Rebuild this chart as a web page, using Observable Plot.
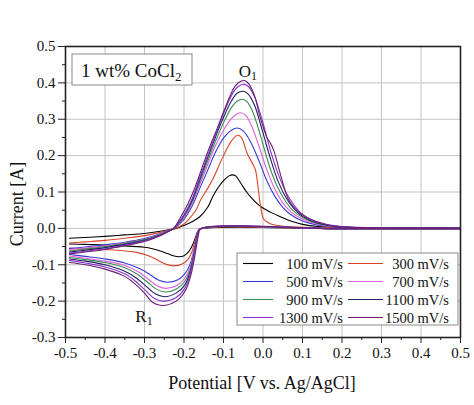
<!DOCTYPE html>
<html>
<head>
<meta charset="utf-8">
<script src="https://cdn.jsdelivr.net/npm/d3@7"></script>
<script src="https://cdn.jsdelivr.net/npm/@observablehq/plot@0.6"></script>
<style>
  html, body { margin: 0; padding: 0; background: #fff; }
  svg { display: block; }
</style>
</head>
<body>
<div id="chart"></div>
<script>
// ---- Data ----
const scanRates = ["100 mV/s", "300 mV/s", "500 mV/s", "700 mV/s", "900 mV/s", "1100 mV/s", "1300 mV/s", "1500 mV/s"];
const seriesColors = ["#000000", "#d9442a", "#3b3bd0", "#e060e0", "#3c8c50", "#202060", "#8a38d0", "#6a1f70"];

const xTicks = [-0.5, -0.4, -0.3, -0.2, -0.1, 0.0, 0.1, 0.2, 0.3, 0.4, 0.5];
const xMinorTicks = [-0.45, -0.35, -0.25, -0.15, -0.05, 0.05, 0.15, 0.25, 0.35, 0.45];
const yTicks = [-0.3, -0.2, -0.1, 0.0, 0.1, 0.2, 0.3, 0.4, 0.5];
const yMinorTicks = [-0.25, -0.15, -0.05, 0.05, 0.15, 0.25, 0.35, 0.45];

// [potential V, current A], in scan order (anodic sweep then cathodic sweep)
const cv100 = [[-0.49,-0.027],[-0.45,-0.025],[-0.4,-0.022],[-0.35,-0.018],[-0.3,-0.014],[-0.26,-0.008],[-0.235,-0.003],[-0.22,0.0],[-0.2,0.008],[-0.18,0.018],[-0.16,0.032],[-0.14,0.058],[-0.125,0.092],[-0.1,0.131],[-0.085,0.145],[-0.078,0.147],[-0.07,0.145],[-0.055,0.122],[-0.04,0.098],[-0.03,0.085],[-0.006,0.06],[0.02,0.044],[0.044,0.032],[0.07,0.02],[0.1,0.011],[0.14,0.005],[0.2,0.002],[0.3,0.001],[0.5,0.001],
  [0.5,-0.001],[0.2,-0.001],[-0.16,-0.002],[-0.165,-0.008],[-0.17,-0.022],[-0.178,-0.045],[-0.188,-0.064],[-0.2,-0.075],[-0.212,-0.078],[-0.225,-0.076],[-0.24,-0.07],[-0.26,-0.062],[-0.28,-0.056],[-0.3,-0.052],[-0.35,-0.048],[-0.4,-0.046],[-0.45,-0.044],[-0.49,-0.043]];
const cv300 = [[-0.49,-0.04],[-0.45,-0.037],[-0.4,-0.033],[-0.35,-0.027],[-0.3,-0.02],[-0.26,-0.011],[-0.235,-0.004],[-0.222,0.0],[-0.2,0.012],[-0.19,0.023],[-0.17,0.05],[-0.158,0.078],[-0.14,0.11],[-0.125,0.14],[-0.1,0.2],[-0.08,0.24],[-0.065,0.256],[-0.055,0.25],[-0.04,0.206],[-0.025,0.175],[-0.019,0.16],[-0.011,0.1],[-0.006,0.06],[0.002,0.025],[0.02,0.012],[0.05,0.006],[0.1,0.003],[0.2,0.001],[0.5,0.001],
  [0.5,-0.001],[0.2,-0.001],[-0.16,-0.002],[-0.165,-0.01],[-0.172,-0.035],[-0.18,-0.065],[-0.19,-0.085],[-0.205,-0.098],[-0.226,-0.103],[-0.245,-0.099],[-0.265,-0.088],[-0.29,-0.075],[-0.32,-0.066],[-0.36,-0.061],[-0.4,-0.058],[-0.45,-0.056],[-0.49,-0.055]];
const cv500 = [[-0.49,-0.055],[-0.45,-0.051],[-0.4,-0.045],[-0.35,-0.038],[-0.3,-0.028],[-0.26,-0.015],[-0.24,-0.006],[-0.225,0.0],[-0.2,0.025],[-0.18,0.06],[-0.16,0.11],[-0.14,0.16],[-0.12,0.21],[-0.1,0.248],[-0.08,0.27],[-0.065,0.276],[-0.05,0.268],[-0.03,0.235],[-0.01,0.185],[0.01,0.13],[0.03,0.088],[0.05,0.058],[0.07,0.038],[0.1,0.02],[0.14,0.009],[0.2,0.003],[0.3,0.001],[0.5,0.001],
  [0.5,-0.001],[0.2,-0.001],[-0.16,-0.002],[-0.165,-0.012],[-0.17,-0.035],[-0.177,-0.07],[-0.185,-0.1],[-0.198,-0.125],[-0.215,-0.141],[-0.243,-0.148],[-0.265,-0.142],[-0.285,-0.128],[-0.31,-0.112],[-0.35,-0.095],[-0.4,-0.084],[-0.45,-0.077],[-0.49,-0.072]];
const cv700 = [[-0.49,-0.058],[-0.45,-0.054],[-0.4,-0.048],[-0.35,-0.04],[-0.3,-0.03],[-0.26,-0.016],[-0.24,-0.007],[-0.226,0.0],[-0.2,0.03],[-0.18,0.068],[-0.16,0.12],[-0.14,0.175],[-0.12,0.228],[-0.1,0.27],[-0.08,0.302],[-0.065,0.315],[-0.057,0.318],[-0.045,0.312],[-0.03,0.285],[-0.01,0.225],[0.01,0.16],[0.03,0.108],[0.05,0.07],[0.07,0.046],[0.1,0.025],[0.14,0.011],[0.2,0.004],[0.3,0.001],[0.5,0.001],
  [0.5,-0.001],[0.2,-0.001],[-0.16,-0.002],[-0.165,-0.012],[-0.17,-0.037],[-0.177,-0.075],[-0.185,-0.108],[-0.198,-0.137],[-0.218,-0.157],[-0.247,-0.165],[-0.268,-0.158],[-0.29,-0.14],[-0.315,-0.12],[-0.35,-0.102],[-0.4,-0.09],[-0.45,-0.082],[-0.49,-0.076]];
const cv900 = [[-0.49,-0.062],[-0.45,-0.057],[-0.4,-0.05],[-0.35,-0.042],[-0.3,-0.031],[-0.26,-0.017],[-0.24,-0.007],[-0.226,0.0],[-0.2,0.033],[-0.18,0.072],[-0.16,0.128],[-0.14,0.185],[-0.12,0.24],[-0.1,0.29],[-0.08,0.332],[-0.065,0.35],[-0.052,0.355],[-0.04,0.348],[-0.025,0.318],[-0.005,0.25],[0.015,0.175],[0.035,0.118],[0.055,0.078],[0.075,0.05],[0.1,0.03],[0.14,0.013],[0.2,0.004],[0.3,0.001],[0.5,0.001],
  [0.5,-0.001],[0.2,-0.001],[-0.16,-0.002],[-0.165,-0.013],[-0.17,-0.04],[-0.177,-0.08],[-0.185,-0.115],[-0.198,-0.146],[-0.218,-0.166],[-0.248,-0.175],[-0.27,-0.167],[-0.292,-0.148],[-0.318,-0.126],[-0.35,-0.108],[-0.4,-0.094],[-0.45,-0.086],[-0.49,-0.08]];
const cv1100 = [[-0.49,-0.065],[-0.45,-0.06],[-0.4,-0.053],[-0.35,-0.044],[-0.3,-0.033],[-0.26,-0.018],[-0.24,-0.008],[-0.226,0.0],[-0.2,0.036],[-0.18,0.076],[-0.16,0.135],[-0.14,0.195],[-0.12,0.252],[-0.1,0.305],[-0.08,0.35],[-0.065,0.372],[-0.05,0.377],[-0.038,0.37],[-0.022,0.34],[-0.002,0.27],[0.018,0.195],[0.038,0.13],[0.058,0.085],[0.078,0.055],[0.1,0.033],[0.14,0.014],[0.2,0.004],[0.3,0.001],[0.5,0.001],
  [0.5,-0.001],[0.2,-0.001],[-0.16,-0.002],[-0.165,-0.014],[-0.17,-0.042],[-0.177,-0.085],[-0.185,-0.122],[-0.198,-0.156],[-0.22,-0.178],[-0.25,-0.188],[-0.273,-0.18],[-0.295,-0.16],[-0.32,-0.137],[-0.35,-0.118],[-0.4,-0.1],[-0.45,-0.09],[-0.49,-0.084]];
const cv1300 = [[-0.49,-0.068],[-0.45,-0.063],[-0.4,-0.056],[-0.35,-0.046],[-0.3,-0.034],[-0.26,-0.019],[-0.24,-0.008],[-0.226,0.0],[-0.2,0.038],[-0.18,0.08],[-0.16,0.14],[-0.14,0.2],[-0.12,0.258],[-0.1,0.315],[-0.08,0.365],[-0.065,0.388],[-0.048,0.396],[-0.035,0.388],[-0.02,0.358],[0.0,0.29],[0.02,0.21],[0.04,0.145],[0.06,0.095],[0.08,0.062],[0.1,0.038],[0.14,0.016],[0.2,0.005],[0.3,0.001],[0.5,0.001],
  [0.5,-0.001],[0.2,-0.001],[-0.16,-0.002],[-0.165,-0.015],[-0.17,-0.044],[-0.177,-0.088],[-0.185,-0.128],[-0.198,-0.165],[-0.22,-0.19],[-0.253,-0.2],[-0.276,-0.192],[-0.298,-0.17],[-0.322,-0.146],[-0.35,-0.125],[-0.4,-0.106],[-0.45,-0.095],[-0.49,-0.088]];
const cv1500 = [[-0.49,-0.07],[-0.45,-0.065],[-0.4,-0.058],[-0.35,-0.048],[-0.3,-0.036],[-0.26,-0.02],[-0.24,-0.009],[-0.226,0.0],[-0.209,0.03],[-0.19,0.068],[-0.175,0.105],[-0.158,0.155],[-0.14,0.21],[-0.116,0.275],[-0.1,0.32],[-0.085,0.36],[-0.07,0.392],[-0.055,0.405],[-0.045,0.406],[-0.035,0.396],[-0.02,0.36],[-0.011,0.32],[0.0,0.28],[0.01,0.25],[0.019,0.234],[0.027,0.215],[0.04,0.165],[0.053,0.115],[0.065,0.078],[0.08,0.056],[0.095,0.041],[0.115,0.028],[0.137,0.018],[0.18,0.006],[0.25,0.002],[0.5,0.001],
  [0.5,-0.001],[0.2,-0.001],[-0.158,-0.002],[-0.163,-0.016],[-0.168,-0.046],[-0.175,-0.09],[-0.183,-0.13],[-0.196,-0.17],[-0.22,-0.2],[-0.256,-0.212],[-0.28,-0.203],[-0.3,-0.178],[-0.325,-0.152],[-0.35,-0.132],[-0.4,-0.112],[-0.45,-0.1],[-0.49,-0.094]];

const curves = [cv100, cv300, cv500, cv700, cv900, cv1100, cv1300, cv1500];

// ---- Build table: split each loop into its anodic and cathodic sweep ----
const table = curves.flatMap((pts, i) => {
  const turn = pts.findIndex(p => p[0] >= 0.5);
  return pts.map(([v, c], k) => ({
    rate: scanRates[i],
    sweep: scanRates[i] + (k <= turn ? " anodic" : " cathodic"),
    potential: v,
    current: c
  }));
});

const FONT = "Liberation Serif, Times New Roman, serif";
const fmt = d => d.toFixed(1);

const chart = Plot.plot({
  width: 474,
  height: 405,
  marginLeft: 65,
  marginRight: 14,
  marginTop: 46,
  marginBottom: 68,
  style: {fontFamily: FONT, fontSize: "15px", background: "#fff", color: "#111"},
  x: {domain: [-0.5, 0.5]},
  y: {domain: [-0.3, 0.5]},
  color: {domain: scanRates, range: seriesColors},
  marks: [
    Plot.gridX(xTicks, {stroke: "#c4c4c4", strokeOpacity: 1, strokeWidth: 1}),
    Plot.gridY(yTicks, {stroke: "#c4c4c4", strokeOpacity: 1, strokeWidth: 1}),
    Plot.line(table, {x: "potential", y: "current", z: "sweep", stroke: "rate", strokeWidth: 1.1, curve: "catmull-rom"}),
    Plot.axisX(xTicks, {tickFormat: fmt, tickSize: 6, tickPadding: 4, label: null, fontSize: 15, fontFamily: FONT, stroke: "#222"}),
    Plot.axisX(xMinorTicks, {text: null, tickSize: 3, label: null, stroke: "#222"}),
    Plot.axisY(yTicks, {tickFormat: fmt, tickSize: 7, tickPadding: 3, label: null, fontSize: 15, fontFamily: FONT, stroke: "#222"}),
    Plot.axisY(yMinorTicks, {text: null, tickSize: 3, label: null, stroke: "#222"}),
    Plot.frame({stroke: "#222", strokeWidth: 1.6})
  ]
});

document.getElementById("chart").appendChild(chart);

// ---- Annotations, legend, axis titles ----
const svg = d3.select(chart);
const sx = chart.scale("x"), sy = chart.scale("y");

function txt(parent, x, y, size, anchor) {
  return parent.append("text")
    .attr("x", x).attr("y", y)
    .attr("text-anchor", anchor)
    .attr("font-family", FONT).attr("font-size", size).attr("fill", "#111");
}

// Axis titles
txt(svg, 262, 389, 18, "middle").text("Potential [V vs. Ag/AgCl]");
svg.append("text")
  .attr("transform", "translate(23,204) rotate(-90)")
  .attr("text-anchor", "middle")
  .attr("font-family", FONT).attr("font-size", 18).attr("fill", "#111")
  .text("Current [A]");

// Sample label box
svg.append("rect")
  .attr("x", 72).attr("y", 54).attr("width", 120).attr("height", 31)
  .attr("fill", "#fff").attr("stroke", "#8a8a8a").attr("stroke-width", 1);
const lab = txt(svg, 81, 76.5, 19, "start");
lab.append("tspan").text("1 wt% CoCl");
lab.append("tspan").attr("font-size", 13).attr("dy", 4).text("2");

// Peak labels
function subLabel(x, y, main, sub) {
  const t = txt(svg, x, y, 17, "start");
  t.append("tspan").text(main);
  t.append("tspan").attr("font-size", 12).attr("dy", 3).text(sub);
}
subLabel(sx.apply(-0.06), sy.apply(0.416), "O", "1");
subLabel(sx.apply(-0.322), sy.apply(-0.259), "R", "1");

// Legend
const lg = svg.append("g");
lg.append("rect")
  .attr("x", 237).attr("y", 253).attr("width", 221).attr("height", 72)
  .attr("fill", "#fff").attr("stroke", "#8a8a8a").attr("stroke-width", 1);
scanRates.forEach((name, i) => {
  const row = Math.floor(i / 2), col = i % 2;
  const yy = 263.5 + row * 18;
  const x0 = col === 0 ? 243 : 348;
  const x1 = col === 0 ? 273 : 383;
  const tx = col === 0 ? 343 : 449;
  lg.append("line").attr("x1", x0).attr("x2", x1).attr("y1", yy).attr("y2", yy)
    .attr("stroke", seriesColors[i]).attr("stroke-width", 1.1);
  txt(lg, tx, yy + 5, 14.5, "end").text(name);
});
</script>
</body>
</html>
